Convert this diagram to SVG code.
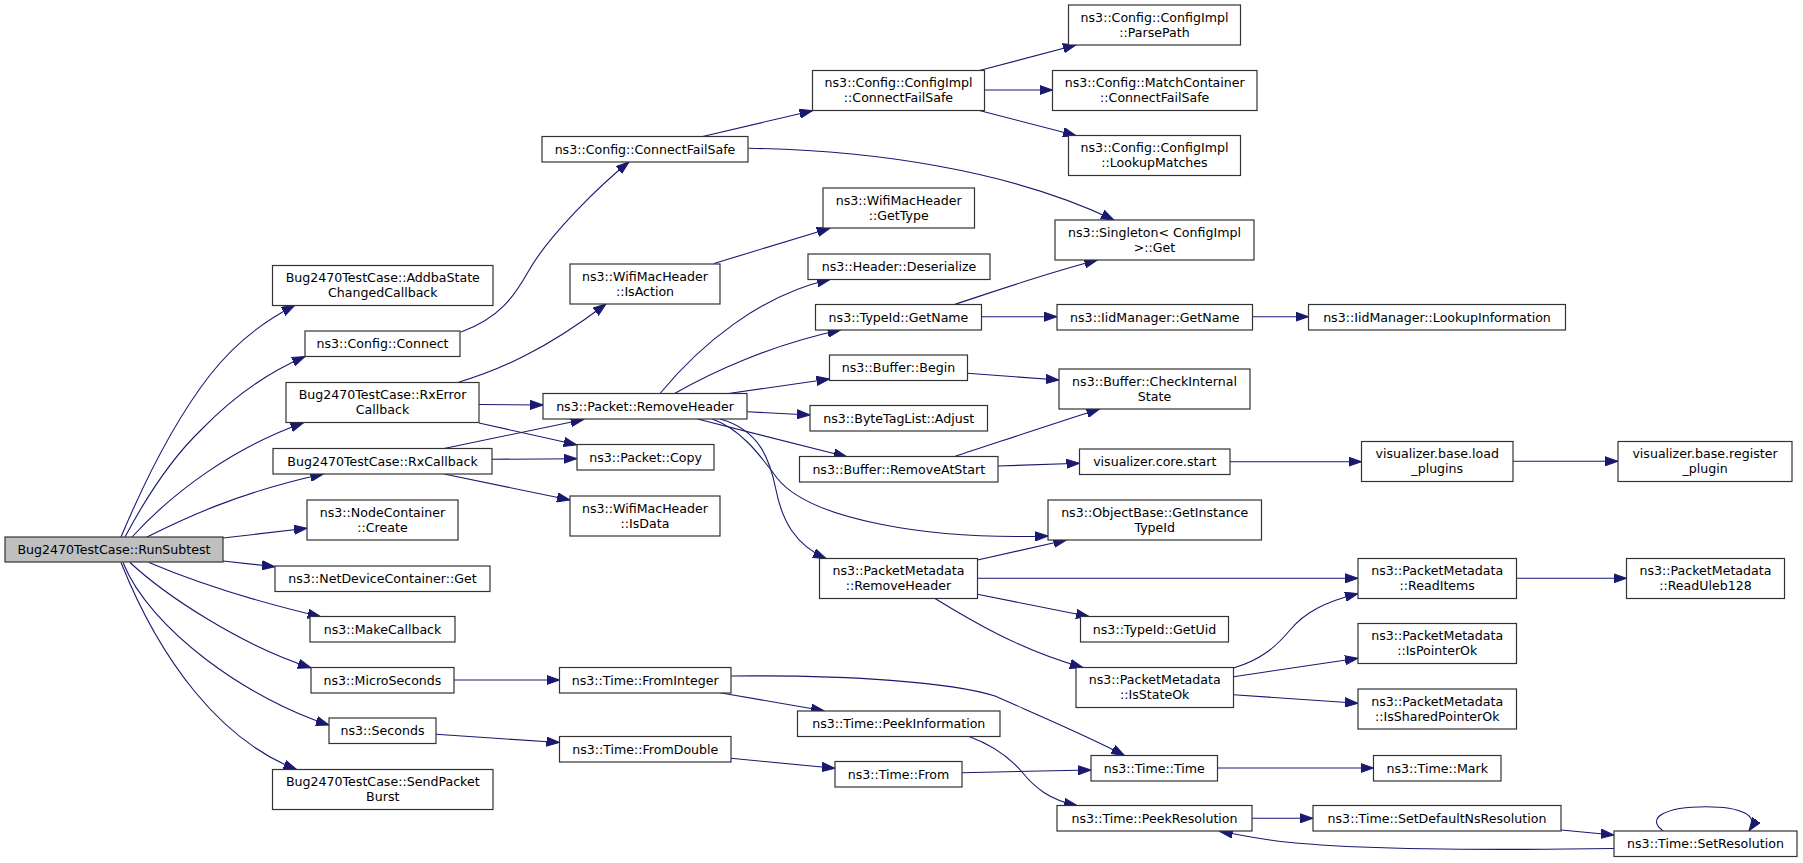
<svg xmlns="http://www.w3.org/2000/svg" width="1803" height="863" viewBox="0 0 1803 863">
<defs>
<style>
.n rect{fill:#ffffff;stroke:#333333;stroke-width:1.2}
.root rect{fill:#bfbfbf}
text{font-family:"DejaVu Sans","Liberation Sans",sans-serif;font-size:12.6px;text-anchor:middle;fill:#000000}
#edges path{fill:none;stroke:#191970;stroke-width:1.1;marker-end:url(#ah)}
</style>
<marker id="ah" markerUnits="userSpaceOnUse" markerWidth="14" markerHeight="10" viewBox="0 0 14 10" refX="13" refY="5" orient="auto">
<path d="M0,0.4 L13,5 L0,9.6 Z" fill="#191970" stroke="#191970" stroke-width="1"/>
</marker>
</defs>
<rect x="0" y="0" width="1803" height="863" fill="#ffffff"/>
<g id="edges">
<path d="M121,537 C145,480 175,420 210,375 C235,343 262,322 294.7,305.5"/>
<path d="M125,537 C150,490 175,455 201,430 C230,400 262,375 305,356.5"/>
<path d="M132,537 C175,490 235,447 303.5,422.7"/>
<path d="M147,537 C185,518 240,492 323.4,474"/>
<path d="M223,538 L307,528.3"/>
<path d="M223,561 L275,566.7"/>
<path d="M149,562.5 C190,580 250,600 320.7,616.7"/>
<path d="M130,562.5 C165,595 240,645 311,667.8"/>
<path d="M123,562.5 C150,630 250,700 329,725"/>
<path d="M121,562.5 C160,660 220,740 296.6,769.5"/>
<path d="M461,332 C500,318 515,295 528,272 C548,236 600,185 629,162"/>
<path d="M457,382.7 C500,370 545,350 606,304"/>
<path d="M479,404.5 L543,405"/>
<path d="M479,423 L576.7,444.8"/>
<path d="M444,448.5 L583.6,419.5"/>
<path d="M492,459.3 L576.7,458.7"/>
<path d="M444,474 L570,500"/>
<path d="M454,680 L559.5,680"/>
<path d="M436,734.3 L559.5,742.5"/>
<path d="M701.6,136.7 L812.5,110.7"/>
<path d="M748.4,148.3 C870,150 1010,170 1114,220"/>
<path d="M714,263.5 L830,228.2"/>
<path d="M660,393.5 C700,345 760,295 830,279.5"/>
<path d="M674.6,393.5 C710,373 770,345 840.5,330"/>
<path d="M728.5,393.5 L829.5,379"/>
<path d="M747,411.7 L810,415"/>
<path d="M697.4,419 L846.7,456.7"/>
<path d="M712,419 C740,428 760,455 777,478 C810,520 930,540 1048,536"/>
<path d="M720,419 C760,430 770,460 776,490 C782,520 795,545 826,558.5"/>
<path d="M720,692.7 L824,710.8"/>
<path d="M731,676 C850,675 950,682 995,696 C1040,716 1090,737 1124.5,755.5"/>
<path d="M731,758.3 L835,768.3"/>
<path d="M979.4,70.5 L1076,45"/>
<path d="M984.5,90 L1052.5,90"/>
<path d="M979.4,110.5 L1076,135.5"/>
<path d="M954.5,304.5 C990,293 1040,275 1097.5,260"/>
<path d="M981.5,316.7 L1057,316.7"/>
<path d="M967.5,373.3 L1059,380"/>
<path d="M954.5,456.5 C990,445 1040,428 1099.6,409"/>
<path d="M998,466 L1079.5,463.3"/>
<path d="M977.5,560 L1066.4,540"/>
<path d="M977.5,578.3 L1358,578.3"/>
<path d="M977.5,594.3 L1089,616.5"/>
<path d="M935,598.5 C970,620 1020,650 1083,667.5"/>
<path d="M969,736.5 C995,746 1010,758 1022,772 C1035,788 1050,800 1077,805.5"/>
<path d="M962,772.7 L1091,770"/>
<path d="M1252.5,316.7 L1308.5,316.7"/>
<path d="M1230,461.7 L1361.5,461.7"/>
<path d="M1233.5,668 C1260,660 1275,648 1290,630 C1305,612 1325,602 1358,593.5"/>
<path d="M1233.5,676.7 L1358,658.3"/>
<path d="M1233.5,694.7 L1358,703.3"/>
<path d="M1217.5,768 L1373.5,768"/>
<path d="M1252,818.3 L1313,818.3"/>
<path d="M1513,461.3 L1618,461.3"/>
<path d="M1516.5,578.3 L1626.5,578.3"/>
<path d="M1561,830 L1614,835"/>
<path d="M1614,848.5 C1480,850.5 1340,850 1270,840 C1250,837 1235,834 1219.8,831.5"/>
<path d="M1663.3,831 C1645,818 1665,806.7 1706,806.7 C1740,806.7 1760,815 1749,830.8"/>
</g>
<g id="n0" class="n root"><rect x="5" y="537" width="218" height="25"/><text x="114" y="553.8">Bug2470TestCase::RunSubtest</text></g>
<g id="n1" class="n"><rect x="272.5" y="265.5" width="220.5" height="40"/><text x="382.75" y="282">Bug2470TestCase::AddbaState</text><text x="382.75" y="297">ChangedCallback</text></g>
<g id="n2" class="n"><rect x="305" y="331" width="155" height="25.5"/><text x="382.5" y="348">ns3::Config::Connect</text></g>
<g id="n3" class="n"><rect x="286" y="382.5" width="193" height="40"/><text x="382.5" y="399">Bug2470TestCase::RxError</text><text x="382.5" y="414">Callback</text></g>
<g id="n4" class="n"><rect x="273" y="448.5" width="219" height="25.5"/><text x="382.5" y="465.5">Bug2470TestCase::RxCallback</text></g>
<g id="n5" class="n"><rect x="307" y="500" width="151" height="40"/><text x="382.5" y="516.5">ns3::NodeContainer</text><text x="382.5" y="531.5">::Create</text></g>
<g id="n6" class="n"><rect x="275" y="566" width="215" height="25.5"/><text x="382.5" y="583">ns3::NetDeviceContainer::Get</text></g>
<g id="n7" class="n"><rect x="310" y="616.5" width="145" height="25.5"/><text x="382.5" y="633.5">ns3::MakeCallback</text></g>
<g id="n8" class="n"><rect x="311" y="667.5" width="143" height="25.5"/><text x="382.5" y="684.5">ns3::MicroSeconds</text></g>
<g id="n9" class="n"><rect x="329" y="718" width="107" height="25.5"/><text x="382.5" y="735">ns3::Seconds</text></g>
<g id="n10" class="n"><rect x="272.5" y="769.5" width="220.5" height="40"/><text x="382.75" y="786">Bug2470TestCase::SendPacket</text><text x="382.75" y="801">Burst</text></g>
<g id="n11" class="n"><rect x="542" y="136.5" width="206" height="25.5"/><text x="645" y="153.5">ns3::Config::ConnectFailSafe</text></g>
<g id="n12" class="n"><rect x="570" y="264" width="150" height="40"/><text x="645" y="280.5">ns3::WifiMacHeader</text><text x="645" y="295.5">::IsAction</text></g>
<g id="n13" class="n"><rect x="543" y="393.5" width="204" height="25.5"/><text x="645" y="410.5">ns3::Packet::RemoveHeader</text></g>
<g id="n14" class="n"><rect x="577" y="444.5" width="137" height="25.5"/><text x="645.5" y="461.5">ns3::Packet::Copy</text></g>
<g id="n15" class="n"><rect x="570" y="496" width="150" height="40"/><text x="645" y="512.5">ns3::WifiMacHeader</text><text x="645" y="527.5">::IsData</text></g>
<g id="n16" class="n"><rect x="559.5" y="667.5" width="171.5" height="25.5"/><text x="645.25" y="684.5">ns3::Time::FromInteger</text></g>
<g id="n17" class="n"><rect x="559.5" y="736.5" width="171.5" height="25.5"/><text x="645.25" y="753.5">ns3::Time::FromDouble</text></g>
<g id="n18" class="n"><rect x="812.5" y="70.5" width="172" height="40"/><text x="898.5" y="87">ns3::Config::ConfigImpl</text><text x="898.5" y="102">::ConnectFailSafe</text></g>
<g id="n19" class="n"><rect x="823" y="188" width="151.5" height="40"/><text x="898.75" y="204.5">ns3::WifiMacHeader</text><text x="898.75" y="219.5">::GetType</text></g>
<g id="n20" class="n"><rect x="808" y="254" width="182" height="25.5"/><text x="899" y="271">ns3::Header::Deserialize</text></g>
<g id="n21" class="n"><rect x="815.5" y="304.5" width="166" height="25.5"/><text x="898.5" y="321.5">ns3::TypeId::GetName</text></g>
<g id="n22" class="n"><rect x="829.5" y="355" width="138" height="25.5"/><text x="898.5" y="372">ns3::Buffer::Begin</text></g>
<g id="n23" class="n"><rect x="810" y="405.5" width="177.5" height="25.5"/><text x="898.75" y="422.5">ns3::ByteTagList::Adjust</text></g>
<g id="n24" class="n"><rect x="799.5" y="456.5" width="198.5" height="25.5"/><text x="898.75" y="473.5">ns3::Buffer::RemoveAtStart</text></g>
<g id="n25" class="n"><rect x="819.5" y="558.5" width="158" height="40"/><text x="898.5" y="575">ns3::PacketMetadata</text><text x="898.5" y="590">::RemoveHeader</text></g>
<g id="n26" class="n"><rect x="797.5" y="711" width="202.5" height="25.5"/><text x="898.75" y="728">ns3::Time::PeekInformation</text></g>
<g id="n27" class="n"><rect x="835" y="761.5" width="127" height="25.5"/><text x="898.5" y="778.5">ns3::Time::From</text></g>
<g id="n28" class="n"><rect x="1068.5" y="5" width="172" height="40"/><text x="1154.5" y="21.5">ns3::Config::ConfigImpl</text><text x="1154.5" y="36.5">::ParsePath</text></g>
<g id="n29" class="n"><rect x="1052.5" y="70.5" width="204.5" height="40"/><text x="1154.75" y="87">ns3::Config::MatchContainer</text><text x="1154.75" y="102">::ConnectFailSafe</text></g>
<g id="n30" class="n"><rect x="1068.5" y="135.5" width="172" height="40"/><text x="1154.5" y="152">ns3::Config::ConfigImpl</text><text x="1154.5" y="167">::LookupMatches</text></g>
<g id="n31" class="n"><rect x="1055" y="220" width="199" height="40"/><text x="1154.5" y="236.5">ns3::Singleton&lt; ConfigImpl</text><text x="1154.5" y="251.5">&gt;::Get</text></g>
<g id="n32" class="n"><rect x="1057" y="304.5" width="195.5" height="25.5"/><text x="1154.75" y="321.5">ns3::IidManager::GetName</text></g>
<g id="n33" class="n"><rect x="1059" y="369" width="191" height="40"/><text x="1154.5" y="385.5">ns3::Buffer::CheckInternal</text><text x="1154.5" y="400.5">State</text></g>
<g id="n34" class="n"><rect x="1079.5" y="449" width="150.5" height="25.5"/><text x="1154.75" y="466">visualizer.core.start</text></g>
<g id="n35" class="n"><rect x="1048" y="500" width="213.5" height="40"/><text x="1154.75" y="516.5">ns3::ObjectBase::GetInstance</text><text x="1154.75" y="531.5">TypeId</text></g>
<g id="n36" class="n"><rect x="1080.5" y="616.5" width="148" height="25.5"/><text x="1154.5" y="633.5">ns3::TypeId::GetUid</text></g>
<g id="n37" class="n"><rect x="1076" y="667.5" width="157.5" height="40"/><text x="1154.75" y="684">ns3::PacketMetadata</text><text x="1154.75" y="699">::IsStateOk</text></g>
<g id="n38" class="n"><rect x="1091" y="755.5" width="126.5" height="25.5"/><text x="1154.25" y="772.5">ns3::Time::Time</text></g>
<g id="n39" class="n"><rect x="1057" y="805.5" width="195" height="25.5"/><text x="1154.5" y="822.5">ns3::Time::PeekResolution</text></g>
<g id="n40" class="n"><rect x="1308.5" y="304.5" width="257" height="25.5"/><text x="1437" y="321.5">ns3::IidManager::LookupInformation</text></g>
<g id="n41" class="n"><rect x="1361.5" y="441.5" width="151.5" height="40"/><text x="1437.25" y="458">visualizer.base.load</text><text x="1437.25" y="473">_plugins</text></g>
<g id="n42" class="n"><rect x="1358" y="558.5" width="158.5" height="40"/><text x="1437.25" y="575">ns3::PacketMetadata</text><text x="1437.25" y="590">::ReadItems</text></g>
<g id="n43" class="n"><rect x="1358" y="623.5" width="158.5" height="40"/><text x="1437.25" y="640">ns3::PacketMetadata</text><text x="1437.25" y="655">::IsPointerOk</text></g>
<g id="n44" class="n"><rect x="1358" y="689" width="158.5" height="40"/><text x="1437.25" y="705.5">ns3::PacketMetadata</text><text x="1437.25" y="720.5">::IsSharedPointerOk</text></g>
<g id="n45" class="n"><rect x="1373.5" y="755.5" width="127.5" height="25.5"/><text x="1437.25" y="772.5">ns3::Time::Mark</text></g>
<g id="n46" class="n"><rect x="1313" y="805.5" width="248" height="25.5"/><text x="1437" y="822.5">ns3::Time::SetDefaultNsResolution</text></g>
<g id="n47" class="n"><rect x="1618" y="441.5" width="174" height="40"/><text x="1705" y="458">visualizer.base.register</text><text x="1705" y="473">_plugin</text></g>
<g id="n48" class="n"><rect x="1626.5" y="558.5" width="158" height="40"/><text x="1705.5" y="575">ns3::PacketMetadata</text><text x="1705.5" y="590">::ReadUleb128</text></g>
<g id="n49" class="n"><rect x="1614" y="831" width="183" height="25.5"/><text x="1705.5" y="848">ns3::Time::SetResolution</text></g>
</svg>
